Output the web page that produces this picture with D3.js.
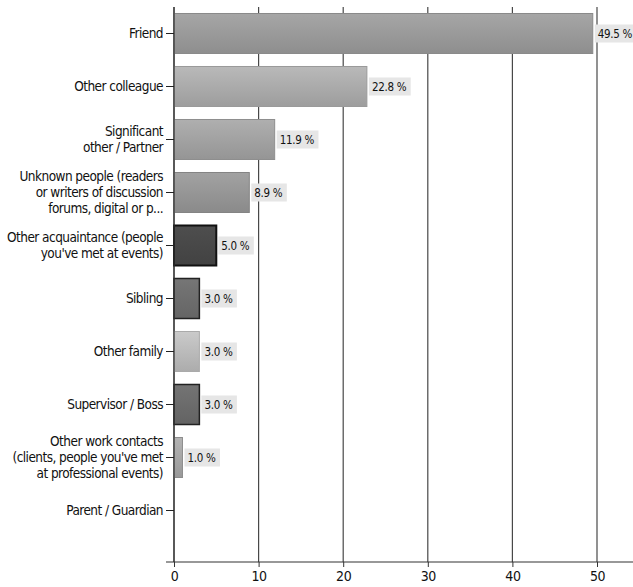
<!DOCTYPE html>
<html>
<head>
<meta charset="utf-8">
<script src="https://cdn.jsdelivr.net/npm/d3@7"></script>
<style>
	body { margin: 0; background: #fff; }
	svg text { font-family: "DejaVu Sans Condensed", "DejaVu Sans", sans-serif; font-stretch: condensed; fill: #111; }
</style>
</head>
<body>
<svg id="chart" width="633" height="587"></svg>
<script>
// categories, top to bottom
var categories = [
	"Friend",
	"Other colleague",
	"Significant\nother / Partner",
	"Unknown people (readers\nor writers of discussion\nforums, digital or p...",
	"Other acquaintance (people\nyou've met at events)",
	"Sibling",
	"Other family",
	"Supervisor / Boss",
	"Other work contacts\n(clients, people you've met\nat professional events)",
	"Parent / Guardian"
];
var values = [49.5, 22.8, 11.9, 8.9, 5.0, 3.0, 3.0, 3.0, 1.0, 0];
var xTicks = [0, 10, 20, 30, 40, 50];

// bar fill / outline, same order as categories
var fills = ["#989898", "#a9a9a9", "#a0a0a0", "#949494", "#474747", "#6c6c6c", "#b9b9b9", "#6a6a6a", "#a4a4a4", "#999"];
var strokes = ["#8a8a8a", "#9a9a9a", "#8e8e8e", "#848484", "#111", "#222", "#aaa", "#222", "#8c8c8c", "#888"];
var strokeW = [1, 1, 1, 1, 2, 1.5, 1, 1.5, 1, 1];

var svg = d3.select("#chart");
var axisY = 562;

var x = d3.scaleLinear().domain([0, 50]).range([174, 597]);
var y = d3.scaleBand().domain(categories).range([7, 537]).paddingInner(0.245).paddingOuter(0.1225);

// gradients
var defs = svg.append("defs");
fills.forEach(function (c, i) {
	var g = defs.append("linearGradient").attr("id", "g" + i)
		.attr("x1", 0).attr("y1", 0).attr("x2", 0).attr("y2", 1);
	g.append("stop").attr("offset", "0%").attr("stop-color", d3.color(c).brighter(0.25));
	g.append("stop").attr("offset", "100%").attr("stop-color", d3.color(c).darker(0.2));
});

// grid
svg.append("g").selectAll("line").data(xTicks).enter().append("line")
	.attr("x1", function (d) { return x(d); })
	.attr("x2", function (d) { return x(d); })
	.attr("y1", 7).attr("y2", axisY)
	.attr("stroke", "#484848").attr("stroke-width", 1.2);

// bars
var bars = svg.append("g");
categories.forEach(function (c, i) {
	if (values[i] <= 0) return;
	bars.append("rect")
		.attr("x", x(0))
		.attr("y", y(c))
		.attr("width", x(values[i]) - x(0))
		.attr("height", y.bandwidth())
		.attr("fill", "url(#g" + i + ")")
		.attr("stroke", strokes[i])
		.attr("stroke-width", strokeW[i]);
});

// value labels
var labels = svg.append("g");
categories.forEach(function (c, i) {
	if (values[i] <= 0) return;
	var lg = labels.append("g");
	var t = lg.append("text")
		.attr("x", x(values[i]) + 5)
		.attr("y", y(c) + y.bandwidth() / 2)
		.attr("dy", "0.35em")
		.attr("font-size", 11.5)
		.attr("letter-spacing", -0.3)
		.text(values[i].toFixed(1) + " %");
	var bb = t.node().getBBox();
	lg.insert("rect", "text")
		.attr("x", x(values[i]) + 2)
		.attr("y", y(c) + y.bandwidth() / 2 - 9)
		.attr("width", bb.width + 7)
		.attr("height", 18)
		.attr("fill", "#e6e6e6");
});

// y axis
var yAxis = svg.append("g").attr("transform", "translate(" + x(0) + ",0)")
	.call(d3.axisLeft(y).tickSize(8).tickSizeOuter(0).tickPadding(3));
yAxis.select(".domain").attr("d", "M0,7V" + axisY).attr("stroke", "#333").attr("stroke-width", 1.2);
yAxis.selectAll(".tick line").attr("stroke", "#222");
yAxis.selectAll(".tick text").each(function (d) {
	var lines = d.split("\n");
	var t = d3.select(this).text(null).attr("font-size", 13.5).attr("letter-spacing", -0.55).attr("dy", null);
	var lh = 16;
	lines.forEach(function (l, k) {
		t.append("tspan").attr("x", -11)
			.attr("y", (k - (lines.length - 1) / 2) * lh)
			.attr("dy", "0.35em").text(l);
	});
});

// x axis
var xAxis = svg.append("g").attr("transform", "translate(0," + axisY + ")")
	.call(d3.axisBottom(x).tickValues(xTicks).tickSize(5).tickSizeOuter(0).tickPadding(4));
xAxis.select(".domain").attr("d", "M166,0H633").attr("stroke", "#333").attr("stroke-width", 1.2);
xAxis.selectAll(".tick line").attr("stroke", "#333");
xAxis.selectAll(".tick text").attr("font-size", 14).attr("letter-spacing", -0.4);
</script>
</body>
</html>
